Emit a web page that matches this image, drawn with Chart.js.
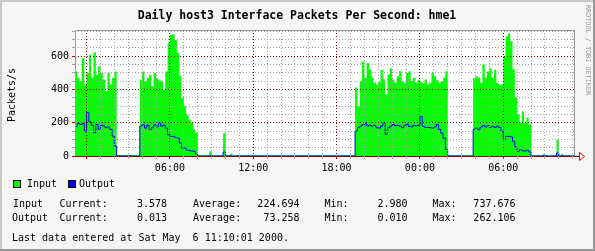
<!DOCTYPE html>
<html>
<head>
<meta charset="utf-8">
<script src="https://cdn.jsdelivr.net/npm/chart.js@4"></script>
<style>
  html, body { margin: 0; padding: 0; background: #f5f5f5; }
  #wrap { width: 595px; height: 251px; }
</style>
</head>
<body>
<div id="wrap"><canvas id="rrd" width="595" height="251"></canvas></div>
<script>
// 10 minute samples, first one starts 23:10 the day before
const startHour = -5 / 6;
const stepHours = 1 / 6;

const inputPps = [
  // 23:10 - 02:20
  448, 508, 470, 450, 588, 430, 500, 608, 470, 624, 488, 540, 500, 460, 390, 500, 430, 470, 508,
  6.1, 5.8, 6.4, 5.5, 6.0, 5.9, 6.3, 5.7, 6.2, 5.6,
  // 04:00 - 08:00
  458, 508, 450, 470, 488, 418, 500, 468, 455, 450, 398, 508, 680, 728, 732, 700, 620, 480, 350, 300, 250, 220, 200, 160, 140,
  5.2, 4.8, 5.5, 5.0, 4.6, 28, 5.1, 4.9, 5.3, 4.7, 5.0, 138, 6.2, 5.0, 14, 4.8,
  5.1, 4.7, 5.3, 4.9, 5.0, 4.6, 5.2, 4.8, 5.4, 4.9, 5.0, 4.7, 5.1, 4.8, 5.3, 4.6,
  5.0, 4.9, 5.2, 4.7, 5.1, 4.8, 5.0, 4.6, 5.3, 4.9, 5.1, 4.8, 5.0, 4.7, 5.2, 4.9,
  5.0, 4.8, 5.1, 4.6, 5.3, 4.9, 5.0, 4.7, 5.2, 4.8, 5.1, 4.9, 5.0, 4.7, 5.4, 5.6,
  5.2, 5.5, 5.1, 5.8,
  // 19:30 - 00:10
  412, 300, 450, 568, 470, 558, 520, 470, 440, 430, 450, 518, 460, 370, 490, 528, 460, 440, 480, 510,
  450, 438, 500, 510, 450, 470, 440, 458, 445, 438, 460, 430, 440, 500, 480, 455, 440, 450, 470, 510,
  5.4, 5.1, 4.9, 5.2, 4.8, 5.0, 4.7, 5.1, 4.9, 5.3, 5.6,
  // 04:00 - 08:00
  468, 480, 470, 440, 552, 470, 508, 528, 470, 518, 440, 428, 430, 600, 718, 737.676, 690, 520, 350, 250, 200, 268, 200, 230, 190,
  5.0, 4.5, 4.8, 5.1, 4.6, 10, 4.7, 4.4, 4.9, 4.2, 4.6, 98, 5.0, 12, 4.1, 3.9, 3.8, 3.578
];

const outputPps = [
  188, 178, 195, 190, 195, 150, 262.106, 205, 185, 140, 190, 160, 185, 180, 170, 175, 160, 120, 60,
  0.02, 0.01, 0.02, 0.03, 0.02, 0.01, 0.02, 0.02, 0.01, 0.02,
  180, 188, 168, 185, 158, 170, 188, 175, 198, 180, 185, 168, 128, 118, 118, 110, 108, 78, 48, 48, 35, 32, 30, 28, 12,
  0.02, 0.01, 0.02, 0.02, 0.01, 2, 0.02, 0.01, 0.02, 0.02, 0.01, 24, 0.3, 0.02, 1, 0.02,
  0.01, 0.02, 0.02, 0.01, 0.02, 0.02, 0.01, 0.02, 0.02, 0.01, 0.02, 0.02, 0.01, 0.02, 0.02, 0.01,
  0.02, 0.02, 0.01, 0.02, 0.02, 0.01, 0.02, 0.02, 0.01, 0.02, 0.02, 0.01, 0.02, 0.02, 0.01, 0.02,
  0.02, 0.01, 0.02, 0.02, 0.01, 0.02, 0.02, 0.01, 0.02, 0.02, 0.01, 0.02, 0.02, 0.01, 0.02, 0.02,
  0.01, 0.02, 0.02, 0.01,
  150, 170, 180, 188, 195, 180, 185, 180, 185, 170, 168, 180, 198, 130, 170, 180, 190, 182, 185, 180,
  170, 185, 190, 178, 175, 185, 180, 185, 238, 178, 172, 172, 170, 168, 175, 190, 160, 138, 108, 40,
  0.02, 0.01, 0.02, 0.02, 0.01, 0.02, 0.02, 0.01, 0.02, 0.02, 0.01,
  160, 168, 158, 175, 184, 175, 184, 172, 178, 172, 180, 172, 148, 100, 118, 118, 115, 88, 55, 28, 38, 32, 30, 35, 24,
  0.02, 0.01, 0.02, 0.02, 0.01, 1.5, 0.02, 0.01, 0.02, 0.02, 0.01, 18, 0.02, 0.5, 0.01, 0.02, 0.01, 0.013
];

const labelHours = [6, 12, 18, 24, 30];
const yLabelValues = [0, 200, 400, 600];
const seriesNames = ["Input", "Output"];
const seriesColors = ["#00ff00", "#0000ff"];
const statsRows = [
  ["Input", "3.578", "224.694", "2.980", "737.676"],
  ["Output", "0.013", "73.258", "0.010", "262.106"]
];
const titleText = "Daily host3 Interface Packets Per Second: hme1";
const yTitle = "Packets/s";
const lastUpdate = "Last data entered at Sat May  6 11:10:01 2000.";
const sideText = "RRDTOOL / TOBI OETIKER";

const MONO = '"DejaVu Sans Mono", monospace';
const MAJOR = "#800000";
const MINOR = "#a4a4a4";

function toPoints(arr) {
  const pts = arr.map((v, i) => ({ x: startHour + i * stepHours, y: v }));
  pts.push({ x: startHour + arr.length * stepHours, y: arr[arr.length - 1] });
  return pts;
}

function hh(h) {
  const v = ((h % 24) + 24) % 24;
  return (v < 10 ? "0" : "") + v + ":00";
}

const rrdDecor = {
  id: "rrdDecor",
  beforeDraw(chart) {
    const { ctx, chartArea: a } = chart;
    const W = chart.width, H = chart.height;
    ctx.save();
    ctx.fillStyle = "#f5f5f5";
    ctx.fillRect(0, 0, W, H);
    // shaded frame
    ctx.fillStyle = "#c8c8c8";
    ctx.fillRect(0, 0, W, 2);
    ctx.fillRect(0, 0, 2, H);
    ctx.fillStyle = "#969696";
    ctx.fillRect(0, H - 2, W, 2);
    ctx.fillRect(W - 2, 0, 2, H);
    ctx.fillStyle = "#ffffff";
    ctx.fillRect(a.left, a.top, a.right - a.left, a.bottom - a.top);
    ctx.restore();
  },
  beforeDatasetsDraw(chart) {
    const { ctx, chartArea: a } = chart;
    ctx.save();
    ctx.lineWidth = 1;
    // x axis with arrow, under the data
    ctx.strokeStyle = MAJOR;
    ctx.beginPath();
    ctx.moveTo(a.left, a.bottom + 0.5);
    ctx.lineTo(a.right + 4, a.bottom + 0.5);
    ctx.stroke();
    ctx.strokeStyle = "#ff0000";
    ctx.beginPath();
    ctx.moveTo(a.right + 4.5, a.bottom - 3.5);
    ctx.lineTo(a.right + 9.5, a.bottom + 0.5);
    ctx.lineTo(a.right + 4.5, a.bottom + 4.5);
    ctx.closePath();
    ctx.stroke();
    ctx.restore();
  },
  afterDraw(chart) {
    const { ctx, chartArea: a } = chart;
    ctx.save();
    ctx.lineWidth = 1;
    // plot frame
    ctx.strokeStyle = "#999999";
    ctx.beginPath();
    ctx.moveTo(a.left + 0.5, a.bottom);
    ctx.lineTo(a.left + 0.5, a.top + 0.5);
    ctx.lineTo(a.right - 0.5, a.top + 0.5);
    ctx.lineTo(a.right - 0.5, a.bottom);
    ctx.stroke();

    ctx.fillStyle = "#000";
    // title
    ctx.font = "bold 11.5px " + MONO;
    ctx.textAlign = "center";
    ctx.textBaseline = "middle";
    ctx.fillText(titleText, 297, 16.5);

    // y title
    ctx.font = "10px " + MONO;
    ctx.save();
    ctx.translate(12.5, 95);
    ctx.rotate(-Math.PI / 2);
    ctx.fillText(yTitle, 0, 0);
    ctx.restore();

    // side text
    ctx.save();
    ctx.fillStyle = "#9a9a9a";
    ctx.font = "6.8px " + MONO;
    ctx.textAlign = "left";
    ctx.translate(588, 5);
    ctx.rotate(Math.PI / 2);
    ctx.fillText(sideText, 0, 0);
    ctx.restore();

    // legend
    ctx.textAlign = "left";
    const legendX = [[13, 27], [68, 79]];
    chart.data.datasets.forEach((ds, i) => {
      const [bx, tx] = legendX[i];
      ctx.fillStyle = ds.legendColor;
      ctx.fillRect(bx, 180, 8, 8);
      ctx.strokeStyle = "#000";
      ctx.strokeRect(bx + 0.5, 180.5, 7, 7);
      ctx.fillStyle = "#000";
      ctx.fillText(ds.label, tx, 184.5);
    });

    // stats
    const rowY = [204.5, 218];
    statsRows.forEach((r, i) => {
      const y = rowY[i];
      ctx.textAlign = "left";
      ctx.fillText(r[0], i === 0 ? 13 : 12, y);
      ctx.fillText("Current:", 59.5, y);
      ctx.fillText("Average:", 193, y);
      ctx.fillText("Min:", 324.5, y);
      ctx.fillText("Max:", 432.5, y);
      ctx.textAlign = "right";
      ctx.fillText(r[1], 167, y);
      ctx.fillText(r[2], 299.5, y);
      ctx.fillText(r[3], 407.5, y);
      ctx.fillText(r[4], 515.5, y);
    });
    ctx.textAlign = "left";
    ctx.fillText(lastUpdate, 12, 238);
    ctx.restore();
  }
};

new Chart(document.getElementById("rrd"), {
  type: "line",
  data: {
    datasets: [{
      label: seriesNames[0],
      data: toPoints(inputPps),
      stepped: "after",
      fill: "origin",
      backgroundColor: seriesColors[0],
      borderColor: "rgba(0,0,0,0)",
      borderWidth: 0,
      pointRadius: 0,
      order: 2,
      legendColor: seriesColors[0]
    }, {
      label: seriesNames[1],
      data: toPoints(outputPps),
      stepped: "after",
      fill: false,
      borderColor: seriesColors[1],
      borderWidth: 1,
      pointRadius: 0,
      order: 1,
      legendColor: seriesColors[1]
    }]
  },
  options: {
    responsive: false,
    animation: false,
    devicePixelRatio: 1,
    layout: { padding: { left: 0, top: 30, right: 20, bottom: 75 } },
    plugins: {
      legend: { display: false },
      tooltip: { enabled: false }
    },
    scales: {
      x: {
        type: "linear",
        min: startHour,
        max: startHour + inputPps.length * stepHours,
        afterBuildTicks: s => {
          s.ticks = [];
          for (let h = Math.ceil(s.min); h <= s.max; h++) s.ticks.push({ value: h });
        },
        afterFit: s => { s.height = 20; },
        ticks: {
          autoSkip: false,
          maxRotation: 0,
          padding: 3,
          color: "#000",
          font: { family: MONO, size: 10 },
          callback: v => labelHours.includes(v) ? hh(v) : ""
        },
        grid: {
          z: 1,
          color: c => (c.tick && c.tick.value % 6 === 0) ? MAJOR : MINOR,
          tickColor: c => (c.tick && c.tick.value % 6 === 0) ? "#cc0000" : MINOR,
          tickLength: 3,
          tickBorderDash: []
        },
        border: {
          display: false,
          dash: [1, 2]
        }
      },
      y: {
        min: 0,
        max: 758,
        afterBuildTicks: s => {
          s.ticks = [];
          for (let v = 0; v <= s.max; v += 50) s.ticks.push({ value: v });
        },
        afterFit: s => { s.width = 75; },
        ticks: {
          autoSkip: false,
          padding: 3,
          color: "#000",
          font: { family: MONO, size: 10 },
          callback: v => yLabelValues.includes(v) ? String(v) : ""
        },
        grid: {
          z: 1,
          color: c => {
            if (!c.tick) return MINOR;
            if (c.tick.value === 0) return "rgba(0,0,0,0)";
            return c.tick.value % 200 === 0 ? MAJOR : MINOR;
          },
          tickColor: c => (c.tick && c.tick.value % 200 === 0) ? "#cc0000" : MINOR,
          tickLength: 3,
          tickBorderDash: []
        },
        border: {
          display: false,
          dash: [1, 2]
        }
      }
    }
  },
  plugins: [rrdDecor]
});
</script>
</body>
</html>
